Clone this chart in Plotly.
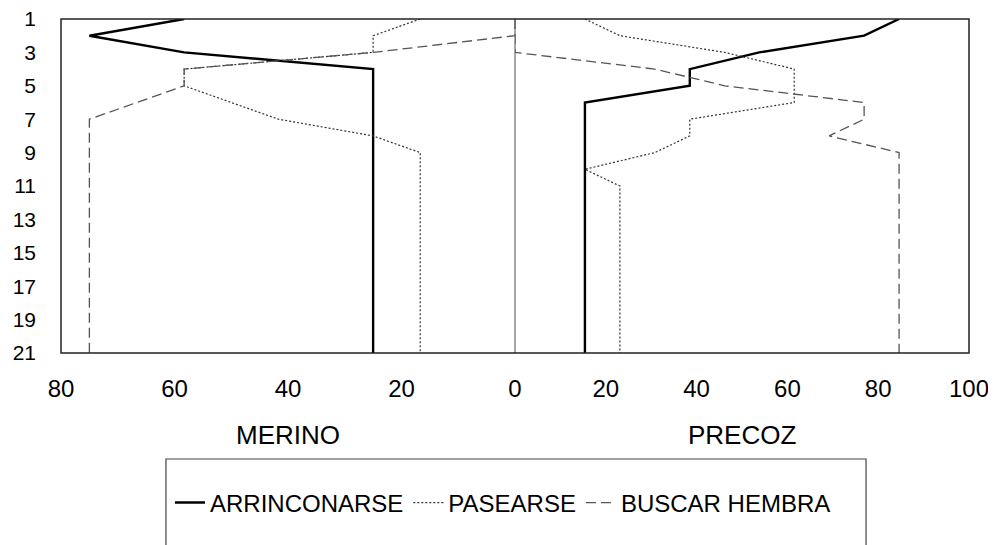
import plotly.graph_objects as go

# Rows (y axis, 1 at top)
rows = list(range(1, 22))
y_ticks = [1, 3, 5, 7, 9, 11, 13, 15, 17, 19, 21]

series_names = ["ARRINCONARSE", "PASEARSE", "BUSCAR HEMBRA"]

# MERINO (left panel, % values)
merino_arrinconarse = [58.3, 75, 58.3] + [25] * 18
merino_pasearse = [16.7, 25, 25, 58.3, 58.3, 50, 41.7, 25] + [16.7] * 13
merino_buscar = [0, 0, 25, 58.3, 58.3, 66.7] + [75] * 15

# PRECOZ (right panel, % values)
precoz_arrinconarse = [84.6, 76.9, 53.8, 38.5, 38.5] + [15.4] * 16
precoz_pasearse = [15.4, 23.1, 46.2, 61.5, 61.5, 61.5, 38.5, 38.5, 30.8, 15.4] + [23.1] * 11
precoz_buscar = [0, 0, 0, 30.8, 46.2, 76.9, 76.9, 69.2] + [84.6] * 13

left_ticks = [80, 60, 40, 20]
right_ticks = [0, 20, 40, 60, 80, 100]

FONT = "Liberation Sans, Arial, sans-serif"
styles = [
    dict(color="#000000", width=2.4, dash="solid"),
    dict(color="#333333", width=1.2, dash="2px,2px"),
    dict(color="#555555", width=1.3, dash="10px,5px"),
]

fig = go.Figure()
merino = [merino_arrinconarse, merino_pasearse, merino_buscar]
precoz = [precoz_arrinconarse, precoz_pasearse, precoz_buscar]
for i, name in enumerate(series_names):
    fig.add_trace(go.Scatter(x=merino[i], y=rows, mode="lines", name=name,
                             line=styles[i], xaxis="x", yaxis="y",
                             legendgroup=name, showlegend=True))
for i, name in enumerate(series_names):
    fig.add_trace(go.Scatter(x=precoz[i], y=rows, mode="lines", name=name,
                             line=styles[i], xaxis="x2", yaxis="y",
                             legendgroup=name, showlegend=False))

fig.update_layout(
    template="none",
    width=988, height=537,
    margin=dict(l=53, r=27, t=11, b=192, autoexpand=False),
    paper_bgcolor="white", plot_bgcolor="white",
    font=dict(family=FONT, color="#000"),
    xaxis=dict(domain=[0, 0.5], range=[80, 0], tickvals=left_ticks,
               showgrid=False, zeroline=False, showline=False, ticks="",
               tickfont=dict(size=24), ticklabelstandoff=19, anchor="y",
               automargin=False, ticklabeloverflow="allow"),
    xaxis2=dict(domain=[0.5, 1], range=[0, 100], tickvals=right_ticks,
                showgrid=False, zeroline=False, showline=False, ticks="",
                tickfont=dict(size=24), ticklabelstandoff=19, anchor="y",
                automargin=False, ticklabeloverflow="allow"),
    yaxis=dict(range=[21, 1], tickvals=y_ticks, showgrid=False, zeroline=False,
               showline=False, ticks="", tickfont=dict(size=21),
               ticklabelstandoff=24, automargin=False, ticklabeloverflow="allow"),
    showlegend=True,
    legend=dict(orientation="h", x=0.12, xanchor="left", y=-0.449,
                yanchor="middle", font=dict(size=24, family=FONT),
                bgcolor="rgba(0,0,0,0)", borderwidth=0, itemwidth=30),
    shapes=[
        dict(type="rect", xref="paper", yref="paper", x0=0, x1=1, y0=0, y1=1,
             line=dict(color="#222", width=1.5), layer="above"),
        dict(type="line", xref="paper", yref="paper", x0=0.5, x1=0.5, y0=0, y1=1,
             line=dict(color="#888", width=1.5), layer="below"),
        dict(type="rect", xref="paper", yref="paper", x0=0.1156, x1=0.8866,
             y0=-0.65, y1=-0.3174, line=dict(color="#444", width=1.2)),
    ],
    annotations=[
        dict(text="MERINO", xref="x domain", yref="paper", x=0.5, y=-0.2455,
             showarrow=False, font=dict(size=26), xanchor="center", yanchor="middle"),
        dict(text="PRECOZ", xref="x2 domain", yref="paper", x=0.5, y=-0.2455,
             showarrow=False, font=dict(size=26), xanchor="center", yanchor="middle"),
    ],
)

fig.write_html("out.html")
